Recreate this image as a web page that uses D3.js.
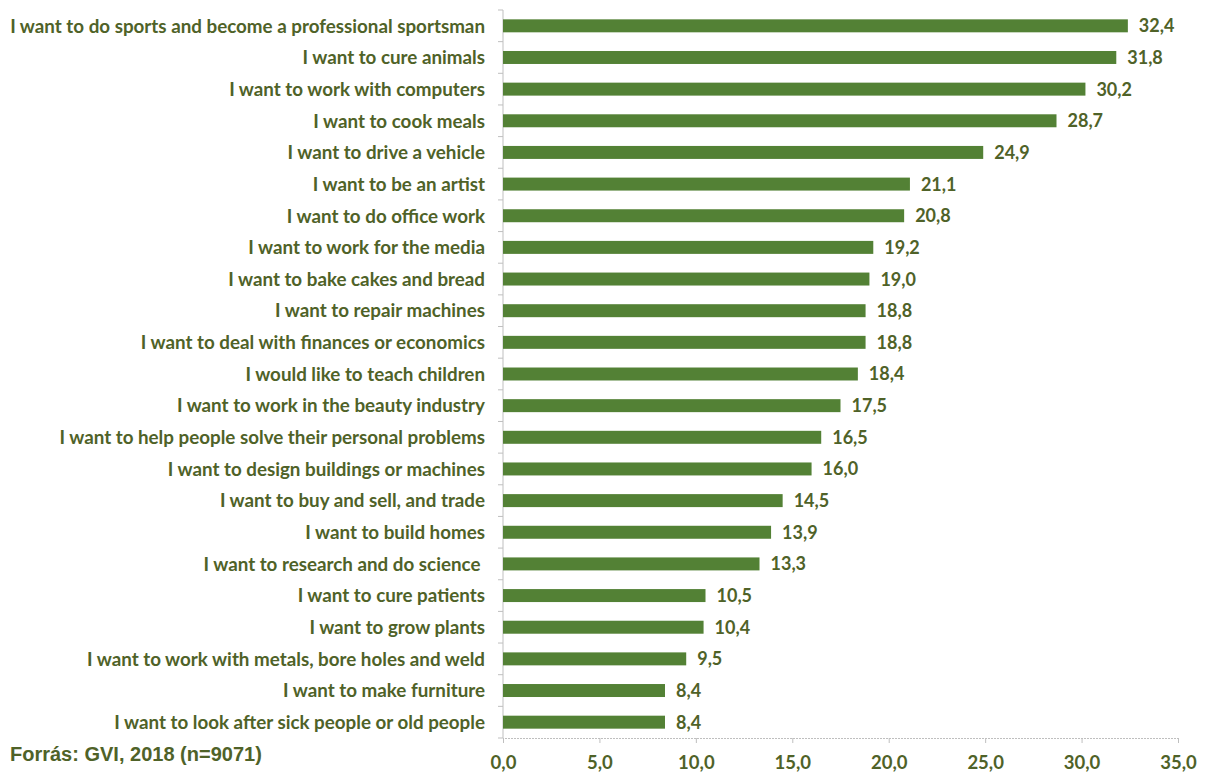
<!DOCTYPE html>
<html>
<head>
<meta charset="utf-8">
<script src="https://cdn.jsdelivr.net/npm/d3@7"></script>
<style>
  body { margin: 0; background: #fff; }
  text { font-family: Lato, "Open Sans", sans-serif; font-weight: bold; fill: #4f6228; }
</style>
</head>
<body>
<svg id="chart"></svg>
<script>
const categories = [
  "I want to do sports and become a professional sportsman",
  "I want to cure animals",
  "I want to work with computers",
  "I want to cook meals",
  "I want to drive a vehicle",
  "I want to be an artist",
  "I want to do office work",
  "I want to work for the media",
  "I want to bake cakes and bread",
  "I want to repair machines",
  "I want to deal with finances or economics",
  "I would like to teach children",
  "I want to work in the beauty industry",
  "I want to help people solve their personal problems",
  "I want to design buildings or machines",
  "I want to buy and sell, and trade",
  "I want to build homes",
  "I want to research and do science ",
  "I want to cure patients",
  "I want to grow plants",
  "I want to work with metals, bore holes and weld",
  "I want to make furniture",
  "I want to look after sick people or old people"
]
const values = [32.4, 31.8, 30.2, 28.7, 24.9, 21.1, 20.8, 19.2, 19.0, 18.8, 18.8, 18.4, 17.5, 16.5, 16.0, 14.5, 13.9, 13.3, 10.5, 10.4, 9.5, 8.4, 8.4]
const xTicks = [0, 5, 10, 15, 20, 25, 30, 35]
const source = "Forrás: GVI, 2018 (n=9071)"

const width = 1205, height = 774
const margin = {top: 10, right: 27, bottom: 36, left: 503}
const fmt = v => v.toFixed(1).replace(".", ",")

const data = categories.map((c, i) => ({cat: c, value: values[i]}))

const svg = d3.select("#chart")
    .attr("width", width)
    .attr("height", height)

const x = d3.scaleLinear()
    .domain([0, 35])
    .range([margin.left, width - margin.right])

const y = d3.scaleBand()
    .domain(categories)
    .range([margin.top, height - margin.bottom])
    .paddingInner(0.59)
    .paddingOuter(0.295)

// y axis line with ticks at category boundaries
const yA = svg.append("g")
yA.append("line")
    .attr("x1", margin.left).attr("x2", margin.left)
    .attr("y1", margin.top).attr("y2", height - margin.bottom)
    .attr("stroke", "#bfbfbf")
d3.range(categories.length + 1).forEach(i => {
  const yy = margin.top + i * (height - margin.top - margin.bottom) / categories.length
  yA.append("line")
      .attr("x1", margin.left - 5).attr("x2", margin.left)
      .attr("y1", yy).attr("y2", yy)
      .attr("stroke", "#bfbfbf")
})

// x axis
const xAxis = svg.append("g")
    .attr("transform", `translate(0,${height - margin.bottom})`)
    .call(d3.axisBottom(x).tickValues(xTicks).tickFormat(fmt).tickSize(5).tickPadding(13))
xAxis.select(".domain").attr("stroke", "#bfbfbf").attr("stroke-dasharray", "2,1")
xAxis.selectAll(".tick line").attr("stroke", "#bfbfbf")
xAxis.selectAll(".tick text")
    .attr("font-size", 18.5)
    .attr("font-family", "Lato, sans-serif")
    .attr("font-weight", "bold")
    .attr("fill", "#4f6228")

// bars
svg.append("g")
  .selectAll("rect")
  .data(data)
  .join("rect")
    .attr("x", x(0))
    .attr("y", d => y(d.cat))
    .attr("width", d => x(d.value) - x(0))
    .attr("height", y.bandwidth())
    .attr("fill", "#538135")

// value labels
svg.append("g")
  .selectAll("text")
  .data(data)
  .join("text")
    .attr("x", d => x(d.value) + 11)
    .attr("y", d => y(d.cat) + y.bandwidth() / 2)
    .attr("dy", "0.36em")
    .attr("font-size", 18)
    .text(d => fmt(d.value))

// category labels
svg.append("g")
  .selectAll("text")
  .data(data)
  .join("text")
    .attr("x", margin.left - 18)
    .attr("y", d => y(d.cat) + y.bandwidth() / 2)
    .attr("dy", "0.36em")
    .attr("text-anchor", "end")
    .attr("font-size", 18.8)
    .style("white-space", "pre")
    .text(d => d.cat)

// source
svg.append("text")
    .attr("x", 10)
    .attr("y", 761)
    .attr("font-size", 20)
    .style("font-family", "Arial, 'Liberation Sans', sans-serif")
    .text(source)
</script>
</body>
</html>
